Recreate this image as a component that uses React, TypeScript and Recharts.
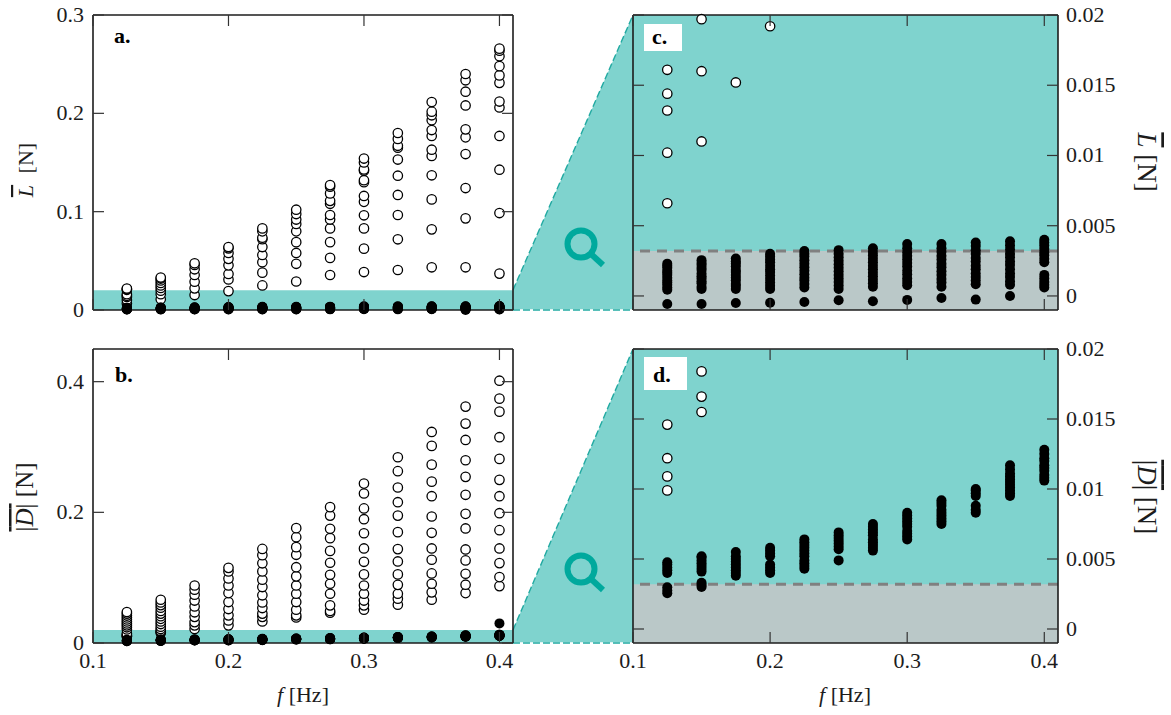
import { Scatter, ScatterChart, XAxis, YAxis, ReferenceArea, ReferenceLine } from "recharts"

const frequencies = [0.125, 0.15, 0.175, 0.2, 0.225, 0.25, 0.275, 0.3, 0.325, 0.35, 0.375, 0.4]
const fTicks = [0.1, 0.2, 0.3, 0.4]
const fDomain = [0.1, 0.41]

const liftTicks = [0, 0.1, 0.2, 0.3]
const dragTicks = [0, 0.2, 0.4]
const zoomTicks = [0, 0.005, 0.01, 0.015, 0.02]
const threshold = 0.0032

// open markers, one list per frequency
const liftOpen = [
  [0.0066, 0.0102, 0.0132, 0.0144, 0.0161, 0.0205, 0.0212, 0.0218],
  [0.011, 0.016, 0.0197, 0.0225, 0.025, 0.0275, 0.03, 0.032, 0.033],
  [0.0152, 0.022, 0.0288, 0.0356, 0.0414, 0.0458, 0.0475],
  [0.0192, 0.031, 0.0366, 0.0454, 0.052, 0.058, 0.0627, 0.064],
  [0.025, 0.038, 0.0485, 0.056, 0.064, 0.072, 0.0735, 0.08, 0.083],
  [0.029, 0.047, 0.058, 0.069, 0.08, 0.0875, 0.092, 0.0976, 0.102],
  [0.0356, 0.053, 0.069, 0.083, 0.092, 0.0966, 0.108, 0.111, 0.1186, 0.1254, 0.127],
  [0.0386, 0.0624, 0.083, 0.0963, 0.11, 0.116, 0.13, 0.132, 0.1417, 0.143, 0.15, 0.154],
  [0.0407, 0.0719, 0.0966, 0.117, 0.1366, 0.153, 0.165, 0.167, 0.174, 0.18],
  [0.0434, 0.082, 0.1125, 0.137, 0.1566, 0.163, 0.177, 0.183, 0.193, 0.198, 0.2017, 0.2115],
  [0.0434, 0.0932, 0.124, 0.1586, 0.1756, 0.1837, 0.208, 0.222, 0.2336, 0.24],
  [0.037, 0.0986, 0.1427, 0.177, 0.206, 0.212, 0.231, 0.2386, 0.248, 0.258, 0.2637, 0.2658],
]

// filled markers, one list per frequency
const liftFilled = [
  [-0.00057, 0.00045, 0.0006, 0.0008, 0.00095, 0.0011, 0.0013, 0.0015, 0.00165, 0.0018, 0.002, 0.00215, 0.0023],
  [-0.00057, 0.0005, 0.00065, 0.0009, 0.00105, 0.00125, 0.0014, 0.0016, 0.00185, 0.002, 0.0022, 0.00235, 0.00255],
  [-0.0005, 0.0005, 0.0007, 0.00085, 0.0011, 0.0013, 0.0015, 0.0017, 0.00185, 0.0021, 0.0023, 0.00245, 0.00267],
  [-0.00048, 0.0005, 0.00072, 0.00095, 0.0012, 0.00145, 0.0017, 0.0019, 0.00215, 0.0024, 0.0026, 0.0028, 0.003],
  [-0.00043, 0.0006, 0.00085, 0.0011, 0.0013, 0.00155, 0.0018, 0.00205, 0.0023, 0.00255, 0.0028, 0.003, 0.0032],
  [-0.0003, 0.0005, 0.00075, 0.001, 0.00125, 0.0015, 0.00175, 0.002, 0.00225, 0.0025, 0.00275, 0.003, 0.00326],
  [-0.00038, 0.00065, 0.0009, 0.00115, 0.0014, 0.00165, 0.0019, 0.00215, 0.0024, 0.00265, 0.0029, 0.00315, 0.0034],
  [-0.00028, 0.00076, 0.001, 0.00125, 0.00155, 0.0018, 0.0021, 0.00235, 0.0026, 0.00285, 0.0031, 0.0034, 0.0037],
  [-0.00014, 0.00065, 0.00095, 0.0012, 0.0015, 0.00175, 0.00205, 0.0023, 0.0026, 0.00285, 0.00315, 0.0034, 0.0037],
  [-0.00026, 0.00083, 0.0011, 0.00135, 0.0016, 0.0019, 0.00215, 0.00245, 0.0027, 0.003, 0.00325, 0.00355, 0.0038],
  [0, 0.0008, 0.00105, 0.00135, 0.0016, 0.0019, 0.0022, 0.00245, 0.00275, 0.003, 0.0033, 0.0036, 0.0039],
  [0.0006, 0.0008, 0.001, 0.00125, 0.0015, 0.0024, 0.00265, 0.0029, 0.0031, 0.00335, 0.0036, 0.0038, 0.004],
]

const dragOpen = [
  [0.0099, 0.0109, 0.0122, 0.0146, 0.0208, 0.024, 0.027, 0.03, 0.033, 0.036, 0.039, 0.042, 0.045, 0.0474],
  [0.0155, 0.0166, 0.0184, 0.0215, 0.025, 0.029, 0.033, 0.037, 0.041, 0.045, 0.049, 0.054, 0.058, 0.062, 0.0662],
  [0.0214, 0.027, 0.032, 0.04, 0.047, 0.056, 0.065, 0.074, 0.0815, 0.088],
  [0.027, 0.0346, 0.0423, 0.052, 0.0627, 0.0764, 0.088, 0.0988, 0.1096, 0.115],
  [0.033, 0.04, 0.045, 0.0535, 0.062, 0.073, 0.0856, 0.0968, 0.1096, 0.122, 0.1345, 0.144],
  [0.039, 0.0423, 0.051, 0.0627, 0.0754, 0.088, 0.102, 0.116, 0.135, 0.1467, 0.162, 0.1758],
  [0.0464, 0.049, 0.0576, 0.0754, 0.0907, 0.1045, 0.1228, 0.141, 0.1605, 0.1748, 0.195, 0.208],
  [0.051, 0.0576, 0.065, 0.0754, 0.088, 0.105, 0.1243, 0.1447, 0.168, 0.1895, 0.206, 0.2288, 0.244],
  [0.0586, 0.0678, 0.0754, 0.089, 0.105, 0.1248, 0.1437, 0.1697, 0.195, 0.2155, 0.238, 0.263, 0.2843],
  [0.0662, 0.0775, 0.0907, 0.1065, 0.1274, 0.1447, 0.1687, 0.1936, 0.2247, 0.247, 0.273, 0.3017, 0.323],
  [0.0764, 0.0892, 0.106, 0.1264, 0.1432, 0.1753, 0.1977, 0.2268, 0.2543, 0.2797, 0.3108, 0.3358, 0.3618],
  [0.0871, 0.1009, 0.1223, 0.1447, 0.1727, 0.1987, 0.2247, 0.2497, 0.2818, 0.315, 0.3541, 0.374, 0.4015],
]

const dragFilled = [
  [0.00255, 0.00275, 0.00298, 0.004, 0.0042, 0.0044, 0.0046, 0.00476],
  [0.003, 0.00315, 0.0033, 0.0041, 0.0043, 0.0045, 0.0047, 0.0049, 0.0051, 0.0052],
  [0.0038, 0.004, 0.0042, 0.0044, 0.0046, 0.0048, 0.005, 0.0052, 0.0055],
  [0.004, 0.0042, 0.0044, 0.0046, 0.0052, 0.0054, 0.0056, 0.0058],
  [0.0043, 0.0045, 0.0047, 0.0049, 0.0052, 0.0054, 0.0056, 0.0058, 0.006, 0.0062, 0.0064],
  [0.0049, 0.0057, 0.0059, 0.0061, 0.0063, 0.0065, 0.0067, 0.0069],
  [0.0056, 0.0058, 0.006, 0.0062, 0.0064, 0.0067, 0.0069, 0.0071, 0.0073, 0.0075],
  [0.0064, 0.0066, 0.0068, 0.007, 0.0073, 0.0075, 0.0077, 0.0079, 0.0081, 0.0083],
  [0.0075, 0.0077, 0.0079, 0.0081, 0.0083, 0.0085, 0.0088, 0.009, 0.0092],
  [0.0083, 0.0085, 0.0088, 0.0095, 0.0097, 0.0099, 0.01],
  [0.0095, 0.0097, 0.0099, 0.0101, 0.0103, 0.0105, 0.0107, 0.0109, 0.0111, 0.0114, 0.0117],
  [0.0106, 0.0108, 0.011, 0.0113, 0.0115, 0.0117, 0.012, 0.0122, 0.0125, 0.0128, 0.03],
]

const TEAL = "#7fd3ce"
const GREY = "#bac8c8"
const DARK_TEAL = "#00a99d"
const INK = "#1c1c1c"
const FONT = "'Liberation Serif', serif"
const TICK_LEN = 11

type Row = { f: number; y: number }

const toRows = (cols: number[][], lo: number, hi: number): Row[] =>
  frequencies.flatMap((f, i) => cols[i].filter((y) => y >= lo && y <= hi).map((y) => ({ f, y })))

const openDot = (p: any) => <circle cx={p.cx} cy={p.cy} r={4.7} fill="#fff" stroke="#000" strokeWidth={1.3} />
const filledDot = (p: any) => <circle cx={p.cx} cy={p.cy} r={5} fill="#000" />
const noDot = () => <g />

// inward tick marks, drawn together with the label so both sides of a panel can share it
const makeTick = (dx: number, dy: number, showLabel: boolean, labelDx: number, labelDy: number, anchor: string) => (p: any) => (
  <g>
    <path d={`M${p.x} ${p.y}L${p.x + dx * TICK_LEN} ${p.y + dy * TICK_LEN}`} fill="none" stroke="#333" strokeWidth={1.2} />
    {showLabel && (
      <text x={p.x + labelDx} y={p.y + labelDy} textAnchor={anchor} fontFamily={FONT} fontSize={22} fill={INK}>
        {String(p.payload.value)}
      </text>
    )}
  </g>
)

type PanelProps = {
  left: number
  top: number
  width: number
  height: number
  margin: { top: number; right: number; bottom: number; left: number }
  yDomain: number[]
  yTicks: number[]
  yWidth: number
  xHeight: number
  zoomed: boolean
  open: Row[]
  filled: Row[]
  band?: number
}

function Panel(props: PanelProps) {
  const { left, top, width, height, margin, yDomain, yTicks, yWidth, xHeight, zoomed, open, filled, band } = props
  const line = { stroke: INK, strokeWidth: 1.6 }
  const xLabels = xHeight > 0
  return (
    <div style={{ position: "absolute", left, top }}>
      <ScatterChart width={width} height={height} margin={margin}>
        {zoomed && <ReferenceArea x1={fDomain[0]} x2={fDomain[1]} y1={yDomain[0]} y2={yDomain[1]} fill={TEAL} fillOpacity={1} stroke="none" />}
        {zoomed && <ReferenceArea x1={fDomain[0]} x2={fDomain[1]} y1={yDomain[0]} y2={threshold} fill={GREY} fillOpacity={1} stroke="none" />}
        {band !== undefined && <ReferenceArea x1={fDomain[0]} x2={fDomain[1]} y1={0} y2={band} fill={TEAL} fillOpacity={1} stroke="none" />}
        {zoomed && <ReferenceLine y={threshold} stroke="#808080" strokeWidth={3} strokeDasharray="10 7" />}
        <XAxis
          dataKey="f"
          type="number"
          domain={fDomain}
          ticks={fTicks}
          interval={0}
          height={xLabels ? xHeight : 1}
          mirror={!xLabels}
          tick={makeTick(0, -1, xLabels, 0, 25, "middle")}
          tickSize={0}
          tickMargin={0}
          axisLine={line}
          tickLine={false}
        />
        <XAxis xAxisId="top" dataKey="f" orientation="top" type="number" domain={fDomain} ticks={fTicks} interval={0} mirror height={1} tick={makeTick(0, 1, false, 0, 0, "middle")} tickSize={0} tickMargin={0} axisLine={line} tickLine={false} />
        <YAxis
          dataKey="y"
          type="number"
          orientation={zoomed ? "right" : "left"}
          domain={yDomain}
          ticks={yTicks}
          interval={0}
          width={yWidth}
          tick={zoomed ? makeTick(-1, 0, true, 8, 7, "start") : makeTick(1, 0, true, -9, 7, "end")}
          tickSize={0}
          tickMargin={0}
          axisLine={line}
          tickLine={false}
        />
        <YAxis yAxisId="other" dataKey="y" orientation={zoomed ? "left" : "right"} type="number" domain={yDomain} ticks={yTicks} interval={0} mirror width={1} tick={makeTick(zoomed ? 1 : -1, 0, false, 0, 0, "start")} tickSize={0} tickMargin={0} axisLine={line} tickLine={false} />
        <Scatter xAxisId="top" yAxisId="other" data={open} shape={noDot} isAnimationActive={false} />
        <Scatter data={open} shape={openDot} isAnimationActive={false} />
        <Scatter data={filled} shape={filledDot} isAnimationActive={false} />
      </ScatterChart>
    </div>
  )
}

function Connector({ yBand, yTop, yBottom }: { yBand: number; yTop: number; yBottom: number }) {
  return (
    <g>
      <polygon points={`513,${yBand} 633,${yTop} 633,${yBottom} 513,${yBottom}`} fill={TEAL} />
      <line x1={513} y1={yBand} x2={633} y2={yTop} stroke="#22aaa2" strokeWidth={1.4} strokeDasharray="7 3" />
      <line x1={513} y1={yBottom} x2={633} y2={yBottom} stroke="#fff" strokeWidth={1.5} />
      <line x1={513} y1={yBottom} x2={633} y2={yBottom} stroke="#22aaa2" strokeWidth={1.5} strokeDasharray="7 3" />
    </g>
  )
}

function Magnifier({ cy }: { cy: number }) {
  return (
    <g fill="none" stroke={DARK_TEAL} strokeWidth={6}>
      <circle cx={581} cy={cy} r={13.5} />
      <line x1={591} y1={cy + 10} x2={603} y2={cy + 21} />
    </g>
  )
}

function Tag({ x, y, w, h, text, tx, ty }: { x: number; y: number; w: number; h: number; text: string; tx: number; ty: number }) {
  return (
    <g>
      {w > 0 && <rect x={x} y={y} width={w} height={h} fill="#fff" />}
      <text x={tx} y={ty} fontFamily={FONT} fontSize={22} fontWeight="bold" fill="#000">
        {text}
      </text>
    </g>
  )
}

export default function App() {
  const panelMarginA = { top: 15, right: 17, bottom: 20, left: 0 }
  const panelMarginB = { top: 19, right: 17, bottom: 0, left: 0 }
  const panelMarginC = { top: 15, right: 0, bottom: 20, left: 33 }
  const panelMarginD = { top: 19, right: 0, bottom: 0, left: 33 }
  const liftLabel = { fontFamily: FONT, fontSize: 22, fill: INK }
  const dragLabel = { fontFamily: FONT, fontSize: 25, fill: INK }
  const rightLabel = { fontFamily: FONT, fontSize: 27, fill: INK }
  const xLabel = { fontFamily: FONT, fontSize: 22, fill: INK }

  return (
    <div style={{ position: "absolute", left: 0, top: 0, width: 1171, height: 715, background: "#fff", overflow: "hidden" }}>
      <svg width={1171} height={715} style={{ position: "absolute", left: 0, top: 0 }}>
        <Connector yBand={290} yTop={15} yBottom={310} />
        <Connector yBand={630} yTop={349} yBottom={643} />
        <Magnifier cy={244} />
        <Magnifier cy={569} />
      </svg>

      <Panel left={0} top={0} width={530} height={330} margin={panelMarginA} yDomain={[0, 0.3]} yTicks={liftTicks} yWidth={93} xHeight={0} zoomed={false} open={toRows(liftOpen, 0, 1)} filled={toRows(liftFilled, 0, 1)} band={0.02} />
      <Panel left={0} top={330} width={530} height={385} margin={panelMarginB} yDomain={[0, 0.45]} yTicks={dragTicks} yWidth={93} xHeight={72} zoomed={false} open={toRows(dragOpen, 0, 1)} filled={toRows(dragFilled, 0, 1)} band={0.02} />
      <Panel left={600} top={0} width={571} height={330} margin={panelMarginC} yDomain={[-0.001, 0.02]} yTicks={zoomTicks} yWidth={113} xHeight={0} zoomed open={toRows(liftOpen, -0.001, 0.02)} filled={toRows(liftFilled, -0.001, 0.02)} />
      <Panel left={600} top={330} width={571} height={385} margin={panelMarginD} yDomain={[-0.001, 0.02]} yTicks={zoomTicks} yWidth={113} xHeight={72} zoomed open={toRows(dragOpen, -0.001, 0.02)} filled={toRows(dragFilled, -0.001, 0.02)} />

      <svg width={1171} height={715} style={{ position: "absolute", left: 0, top: 0, pointerEvents: "none" }}>
        <Tag x={0} y={0} w={0} h={0} text="a." tx={114} ty={43} />
        <Tag x={0} y={0} w={0} h={0} text="b." tx={115} ty={382} />
        <Tag x={644} y={24} w={38} h={27} text="c." tx={652} ty={44} />
        <Tag x={644} y={357} w={43} h={33} text="d." tx={653} ty={382} />

        <text x={303} y={702} textAnchor="middle" {...xLabel}>
          <tspan fontStyle="italic">f</tspan> [Hz]
        </text>
        <text x={845} y={702} textAnchor="middle" {...xLabel}>
          <tspan fontStyle="italic">f</tspan> [Hz]
        </text>

        <text transform="translate(33,170) rotate(-90)" textAnchor="middle" {...liftLabel}>
          <tspan fontStyle="italic" style={{ textDecoration: "overline" }}>L</tspan> <tspan dx={6}>[N]</tspan>
        </text>
        <text transform="translate(33,497) rotate(-90)" textAnchor="middle" {...dragLabel}>
          <tspan style={{ textDecoration: "overline" }}>|<tspan fontStyle="italic">D</tspan>|</tspan> [N]
        </text>
        <text transform="translate(1138,162) rotate(90)" textAnchor="middle" {...rightLabel}>
          <tspan fontStyle="italic" style={{ textDecoration: "overline" }}>L</tspan> [N]
        </text>
        <text transform="translate(1138,497) rotate(90)" textAnchor="middle" {...rightLabel}>
          <tspan style={{ textDecoration: "overline" }}>|<tspan fontStyle="italic">D</tspan>|</tspan> [N]
        </text>
      </svg>
    </div>
  )
}
